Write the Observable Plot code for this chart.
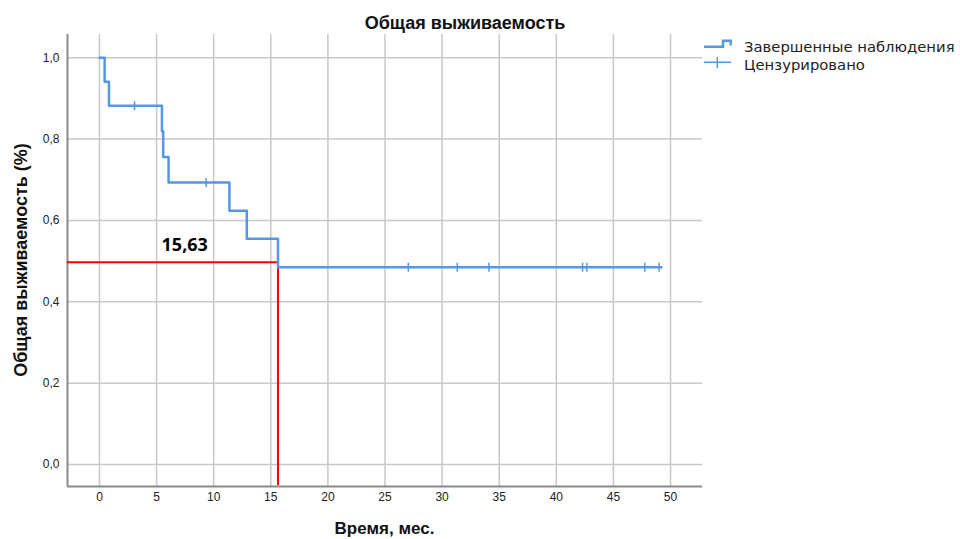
<!DOCTYPE html>
<html>
<head>
<meta charset="utf-8">
<script src="https://cdn.jsdelivr.net/npm/d3@7"></script>
<script src="https://cdn.jsdelivr.net/npm/@observablehq/plot@0.6"></script>
<style>
  html, body { margin: 0; padding: 0; background: #fff; }
  #chart svg { display: block; }
</style>
</head>
<body>
<div id="chart"></div>
<script>
// ---- data ----
const eventTimes    = [0, 0.45, 0.83, 5.47, 5.58, 6.05, 11.38, 12.9, 15.63, 49.2];
const eventSurvival = [1, 0.941, 0.882, 0.819, 0.756, 0.693, 0.624, 0.555, 0.485, 0.485];
const censorTimes    = [3.07, 9.34, 27.04, 31.33, 34.1, 42.3, 42.67, 47.75, 49.0];
const censorSurvival = [0.882, 0.693, 0.485, 0.485, 0.485, 0.485, 0.485, 0.485, 0.485];
const medianTime  = [15.63];
const medianLevel = [0.497];
const xTicks = [0, 5, 10, 15, 20, 25, 30, 35, 40, 45, 50];
const yTicks = [0, 0.2, 0.4, 0.6, 0.8, 1.0];
const xDomain = [-2.8, 52.8];
const yDomain = [-0.054, 1.057];
const titleText = "Общая выживаемость";
const xLabel = "Время, мес.";
const yLabel = "Общая выживаемость (%)";
const legendLabels = ["Завершенные наблюдения", "Цензурировано"];

const blue = "#5596e6";
const comma = d => String(d).replace(".", ",");

const kmData = eventTimes.map((t, i) => ({t, s: eventSurvival[i]}));
const censorData = censorTimes.map((t, i) => ({t, s: censorSurvival[i]}));
const medianPath = [
  {t: xDomain[0], s: medianLevel[0]},
  {t: medianTime[0], s: medianLevel[0]},
  {t: medianTime[0], s: -0.049}
];

const vtick = {
  draw(ctx, size) {
    const r = Math.sqrt(size / Math.PI);
    ctx.moveTo(0, -r);
    ctx.lineTo(0, r);
  }
};

const W = 960, H = 539;
const mL = 67, mR = 258, mT = 34, mB = 53;

const svg = Plot.plot({
  width: W,
  height: H,
  marginLeft: mL,
  marginRight: mR,
  marginTop: mT,
  marginBottom: mB,
  style: {fontFamily: "'Liberation Sans', Arial, sans-serif", fontSize: "12px", background: "#fff", color: "#222"},
  x: {domain: xDomain, ticks: xTicks, tickSize: 0, tickPadding: 6, label: null},
  y: {domain: yDomain, ticks: yTicks, tickSize: 0, tickPadding: 8, label: null,
      tickFormat: d => d.toFixed(1).replace(".", ",")},
  marks: [
    Plot.ruleX(xTicks, {stroke: "#c8c8c8", strokeWidth: 1.5}),
    Plot.ruleY(yTicks, {stroke: "#c8c8c8", strokeWidth: 1.5}),
    Plot.ruleX([xDomain[0]], {stroke: "#8a8a8a", strokeWidth: 2}),
    Plot.ruleY([yDomain[0]], {stroke: "#8a8a8a", strokeWidth: 2}),
    Plot.line(medianPath, {x: "t", y: "s", stroke: "#ff0000", strokeWidth: 2}),
    Plot.line(kmData, {x: "t", y: "s", curve: "step-after", stroke: blue, strokeWidth: 2.5}),
    Plot.dot(censorData, {x: "t", y: "s", symbol: vtick, r: 4.5, stroke: blue, strokeWidth: 1.5, fill: "none"}),
    Plot.text(medianTime, {x: d => d / 2, y: medianLevel[0], text: d => comma(d),
      fontWeight: "bold", fontSize: 18, fill: "#000", dy: -17, dx: -4, lineAnchor: "middle",
      fontFamily: "'Open Sans', sans-serif"})
  ]
});

const s = d3.select(svg);
// title
s.append("text").attr("x", 465).attr("y", 29).attr("text-anchor", "middle")
  .attr("font-family", "'Liberation Sans', Arial, sans-serif").attr("font-weight", "bold")
  .attr("font-size", 18).attr("fill", "#111").text(titleText);
// x label
s.append("text").attr("x", (mL + W - mR) / 2).attr("y", 534).attr("text-anchor", "middle")
  .attr("font-family", "'Liberation Sans', Arial, sans-serif").attr("font-weight", "bold")
  .attr("font-size", 17).attr("fill", "#111").text(xLabel);
// y label
s.append("text").attr("transform", `translate(27,${(mT + H - mB) / 2}) rotate(-90)`)
  .attr("text-anchor", "middle")
  .attr("font-family", "'Liberation Sans', Arial, sans-serif").attr("font-weight", "bold")
  .attr("font-size", 18).attr("fill", "#111").text(yLabel);
// legend
const lg = s.append("g");
lg.append("path").attr("d", "M704,46.7H723V40.7H730.7V45.5").attr("fill", "none")
  .attr("stroke", blue).attr("stroke-width", 2.5);
lg.append("path").attr("d", "M704,62.3H731M717.3,57.3V68.3").attr("fill", "none")
  .attr("stroke", blue).attr("stroke-width", 1.5);
lg.selectAll("text.lg").data(legendLabels).join("text")
  .attr("x", 744).attr("y", (d, i) => 52 + i * 18)
  .attr("text-anchor", "start")
  .attr("font-family", "'DejaVu Sans', sans-serif").attr("font-size", 14.8).attr("fill", "#222")
  .text(d => d);

document.getElementById("chart").appendChild(svg);
</script>
</body>
</html>
